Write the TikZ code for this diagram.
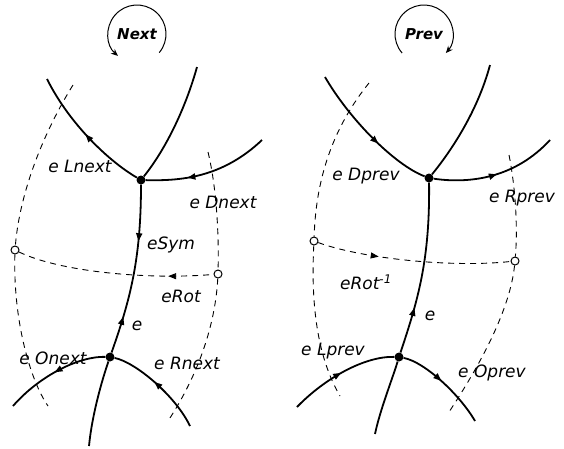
\documentclass[tikz,border=0pt]{standalone}
\usepackage{fontspec}
\setsansfont{DejaVu Sans}
\usetikzlibrary{arrows.meta,decorations.markings}

\begin{document}
\begin{tikzpicture}[x=1pt,y=-1pt,
  edge/.style={line width=1.8pt},
  dual/.style={line width=0.9pt,dash pattern=on 6pt off 5pt},
  vert/.style={circle,fill,inner sep=0pt,minimum size=9pt},
  dualvert/.style={circle,draw,fill=white,line width=1pt,inner sep=0pt,minimum size=8pt},
  lbl/.style={font=\sffamily\slshape\fontsize{17}{19}\selectfont},
  looplbl/.style={font=\sffamily\bfseries\slshape\fontsize{15}{17}\selectfont},
  turn/.style={line width=1pt,-{Stealth[length=7pt,width=6pt]}},
  fwd/.style={postaction={decorate,decoration={markings,mark=at position #1 with {\arrow{Triangle[length=8pt,width=6pt]}}}}},
  bwd/.style={postaction={decorate,decoration={markings,mark=at position #1 with {\arrowreversed{Triangle[length=8pt,width=6pt]}}}}}]

\useasboundingbox (0,0) rectangle (564,448);

%%% Left: Next

% rotation sign
\node[looplbl] (next) at (137,34) {Next};
\draw[turn] (next) ++(40:29) arc[start angle=40,end angle=-229,radius=29];

% primal vertices and dual vertices
\node[vert] (lA) at (141,180) {};
\node[vert] (lB) at (110,357) {};
\node[dualvert] (lL) at (15,250) {};
\node[dualvert] (lR) at (218,274) {};

% loose ends
\coordinate (lUp) at (197,67);
\coordinate (lUL) at (47,79);
\coordinate (lUR) at (262,140);
\coordinate (lDn) at (89,446);
\coordinate (lDL) at (13,406);
\coordinate (lDR) at (190,426);
\coordinate (lLtop) at (73,85);
\coordinate (lLbot) at (48,406);
\coordinate (lRtop) at (208,152);
\coordinate (lRbot) at (168,421);

% dual edges
\draw[dual] (lLtop) .. controls (45,130) and (20,190) .. (lL);
\draw[dual] (lL) .. controls (13,320) and (30,380) .. (lLbot);
\draw[dual] (lRtop) .. controls (216,185) and (219,230) .. (lR);
\draw[dual] (lR) .. controls (215,330) and (195,380) .. (lRbot);
\draw[dual,bwd=0.77] (lL) .. controls (60,272) and (150,280) .. (lR);

% primal edges
\draw[edge] (lA) .. controls (165,150) and (185,110) .. (lUp);
\draw[edge,fwd=0.5] (lA) .. controls (110,162) and (70,125) .. (lUL);
\draw[edge,bwd=0.33] (lA) .. controls (180,181) and (222,178) .. (lUR);
\draw[edge,fwd=0.33,bwd=0.78] (lA) .. controls (141,260) and (130,300) .. (lB);
\draw[edge] (lB) .. controls (102,380) and (92,415) .. (lDn);
\draw[edge,fwd=0.5] (lB) .. controls (80,356) and (40,375) .. (lDL);
\draw[edge,bwd=0.45] (lB) .. controls (135,362) and (175,395) .. (lDR);

% labels
\node[lbl] (lLnext) at (80,166) {e Lnext};
\node[lbl] (lDnext) at (223,202) {e Dnext};
\node[lbl] (lSym) at (171,245) {eSym};
\node[lbl] (lRot) at (181,296) {eRot};
\node[lbl] (le) at (137,326) {e};
\node[lbl] (lOnext) at (53,358) {e Onext};
\node[lbl] (lRnext) at (187,363) {e Rnext};

%%% Right: Prev

% rotation sign
\node[looplbl] (prev) at (424,34) {Prev};
\draw[turn] (prev) ++(139:29) arc[start angle=139,end angle=401,radius=29];

% primal vertices and dual vertices
\node[vert] (rA) at (429,178) {};
\node[vert] (rB) at (399,357) {};
\node[dualvert] (rL) at (314,241) {};
\node[dualvert] (rR) at (515,261) {};

% loose ends
\coordinate (rUp) at (490,65);
\coordinate (rUL) at (325,77);
\coordinate (rUR) at (550,140);
\coordinate (rDn) at (375,434);
\coordinate (rDL) at (297,407);
\coordinate (rDR) at (475,421);
\coordinate (rLtop) at (369,83);
\coordinate (rLbot) at (340,396);
\coordinate (rRtop) at (509,155);
\coordinate (rRbot) at (449,412);

% dual edges
\draw[dual] (rLtop) .. controls (335,125) and (316,175) .. (rL);
\draw[dual] (rL) .. controls (311,300) and (316,355) .. (rLbot);
\draw[dual] (rRtop) .. controls (515,185) and (518,225) .. (rR);
\draw[dual] (rR) .. controls (510,310) and (480,365) .. (rRbot);
\draw[dual,fwd=0.32] (rL) .. controls (360,258) and (450,268) .. (rR);

% primal edges
\draw[edge] (rA) .. controls (452,150) and (478,110) .. (rUp);
\draw[edge,bwd=0.4] (rA) .. controls (395,165) and (350,120) .. (rUL);
\draw[edge,fwd=0.5] (rA) .. controls (470,184) and (515,178) .. (rUR);
\draw[edge,bwd=0.73] (rA) .. controls (430,260) and (418,300) .. (rB);
\draw[edge] (rB) .. controls (392,380) and (380,410) .. (rDn);
\draw[edge,bwd=0.5] (rB) .. controls (365,356) and (325,378) .. (rDL);
\draw[edge,fwd=0.46] (rB) .. controls (425,362) and (460,395) .. (rDR);

% labels
\node[lbl] (rDprev) at (366,176) {e Dprev};
\node[lbl] (rRprev) at (522,198) {e Rprev};
\node[lbl] (rRot) at (366,282) {eRot\textsuperscript{-1}};
\node[lbl] (re) at (430,316) {e};
\node[lbl] (rLprev) at (333,351) {e Lprev};
\node[lbl] (rOprev) at (492,373) {e Oprev};

\end{tikzpicture}
\end{document}
